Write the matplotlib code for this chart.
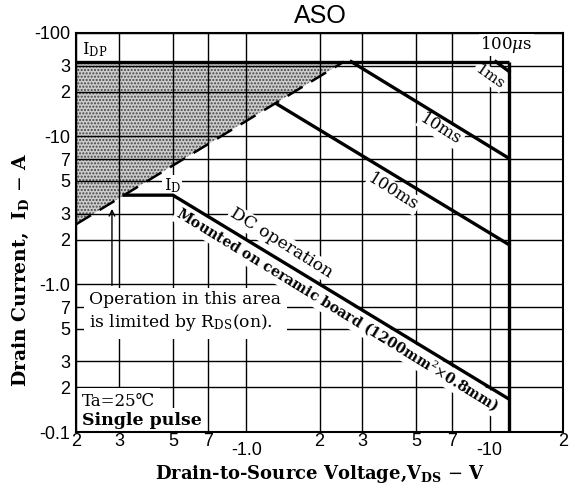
import matplotlib
matplotlib.use("Agg")
import matplotlib.pyplot as plt
import numpy as np

plt.rcParams['mathtext.fontset'] = 'dejavuserif'
plt.rcParams['hatch.linewidth'] = 1.0

# ---- data ----
x_minor_ticks = [0.2, 0.3, 0.5, 0.7, 2, 3, 5, 7, 20]
x_minor_labels = ["2", "3", "5", "7", "2", "3", "5", "7", "2"]
x_major_ticks = [1, 10]
x_major_labels = ["-1.0", "-10"]
y_minor_ticks = [0.2, 0.3, 0.5, 0.7, 2, 3, 5, 7, 20, 30]
y_minor_labels = ["2", "3", "5", "7", "2", "3", "5", "7", "2", "3"]
y_major_ticks = [0.1, 1, 10, 50]
y_major_labels = ["-0.1", "-1.0", "-10", "-100"]

idp_v = [0.2, 12.0]
idp_i = [32.0, 32.0]
vdss_v = [12.0, 12.0]
vdss_i = [32.0, 0.1]
rds_v = [0.2, 2.52]
rds_i = [2.54, 32.0]
us100_v = [10.6, 12.0]
us100_i = [32.0, 27.5]
ms10_v = [2.7, 12.0]
ms10_i = [32.0, 7.1]
ms100_v = [1.34, 12.0]
ms100_i = [16.5, 1.85]
dc_v = [0.315, 0.5, 12.0]
dc_i = [4.0, 4.0, 0.167]

serif = ['DejaVu Serif']
sans = ['Liberation Sans', 'DejaVu Sans']

fig = plt.figure(figsize=(5.75, 4.9), dpi=100)
ax = fig.add_axes([76/575, 1-432/490, (563-76)/575, (432-33)/490])
ax.set_xscale('log')
ax.set_yscale('log')
ax.set_xlim(0.2, 20)
ax.set_ylim(0.1, 50)

ax.set_xticks(x_major_ticks, labels=x_major_labels)
ax.set_xticks(x_minor_ticks, labels=x_minor_labels, minor=True)
ax.set_yticks(y_major_ticks, labels=y_major_labels)
ax.set_yticks(y_minor_ticks, labels=y_minor_labels, minor=True)
ax.tick_params(which='both', length=0, labelsize=13)
ax.tick_params(axis='x', which='major', pad=7)
ax.tick_params(axis='x', which='minor', pad=1)
ax.tick_params(axis='y', which='both', pad=4)
for lab in ax.get_xticklabels(which='both') + ax.get_yticklabels(which='both'):
    lab.set_fontfamily(sans)

ax.set_axisbelow(True)
ax.grid(which='both', color='black', lw=1.0, zorder=0.5)
for s in ax.spines.values():
    s.set_linewidth(1.5)

# stippled R_DS(on) limited area
ax.fill_between(rds_v, rds_i, [idp_i[0]] * len(rds_v), facecolor='#cccccc',
                edgecolor='#444444', hatch='.....', lw=0, zorder=0.2)

lw = 2.4
ax.plot(idp_v, idp_i, color='black', lw=lw, zorder=4, solid_capstyle='butt')
ax.plot(vdss_v, vdss_i, color='black', lw=lw, zorder=4, solid_capstyle='butt')
ax.plot(rds_v, rds_i, color='black', lw=1.8, ls=(0, (7, 4)), zorder=4)
ax.plot(us100_v, us100_i, color='black', lw=lw, zorder=4)
ax.plot(ms10_v, ms10_i, color='black', lw=lw, zorder=4)
ax.plot(ms100_v, ms100_i, color='black', lw=lw, zorder=4)
ax.plot(dc_v, dc_i, color='black', lw=lw, zorder=4)

wb = dict(facecolor='white', edgecolor='none', pad=1.0)

ax.text(0.212, 38.7, r"I$_{\mathrm{DP}}$", family=serif, fontsize=12,
        ha='left', va='center', bbox=wb, zorder=2)
ax.text(11.7, 41.8, r"100$\mu$s", family=serif, fontsize=12,
        ha='center', va='center', bbox=wb, zorder=2)
ax.text(10.0, 25.4, "1ms", family=serif, fontsize=11, rotation=-35,
        ha='center', va='center', bbox=wb, zorder=2)
ax.text(6.3, 11.1, "10ms", family=serif, fontsize=12, rotation=-32,
        ha='center', va='center', bbox=wb, zorder=2)
ax.text(4.03, 4.19, "100ms", family=serif, fontsize=12, rotation=-32,
        ha='center', va='center', bbox=wb, zorder=2)
ax.text(0.497, 4.67, r"I$_{\mathrm{D}}$", family=serif, fontsize=12,
        ha='center', va='center', bbox=wb, zorder=2)
ax.text(1.39, 1.89, "DC operation", family=serif, fontsize=12.5, rotation=-32,
        ha='center', va='center', bbox=wb, zorder=2)
ax.text(2.37, 0.675, r"Mounted on ceramic board (1200mm$^{2}$$\times$0.8mm)",
        family=serif, fontsize=10.2, fontweight='bold', rotation=-31.5,
        ha='center', va='center', bbox=wb, zorder=2)
ax.text(0.227, 0.647, "Operation in this area\nis limited by R$_{\\mathrm{DS}}$(on).",
        family=serif, fontsize=12.3, ha='left', va='center', linespacing=1.25,
        bbox=dict(facecolor='white', edgecolor='none', pad=4), zorder=2)
ax.text(0.212, 0.162, "Ta=25℃", family=serif, fontsize=12,
        ha='left', va='center', bbox=dict(facecolor='white', edgecolor='none', pad=3), zorder=2)
ax.text(0.212, 0.119, "Single pulse", family=serif, fontsize=12.5, fontweight='bold',
        ha='left', va='center', bbox=dict(facecolor='white', edgecolor='none', pad=3), zorder=2)

ax.annotate("", xy=(0.281, 3.37), xytext=(0.281, 0.94),
            arrowprops=dict(arrowstyle='->', color='black', lw=1.0), zorder=3)

fig.text(320/575, 1-16/490, "ASO", family=sans, fontsize=18, ha='center', va='center')
fig.text(320/575, 1-474/490, r"Drain-to-Source Voltage,V$_{\mathbf{DS}}$ $-$ V",
         family=serif, fontsize=13, fontweight='bold', ha='center', va='center')
fig.text(21/575, 1-270/490, r"Drain Current,  I$_{\mathbf{D}}$ $-$ A",
         family=serif, fontsize=13.5, fontweight='bold', rotation=90,
         ha='center', va='center')

fig.savefig("out.png", dpi=100)
